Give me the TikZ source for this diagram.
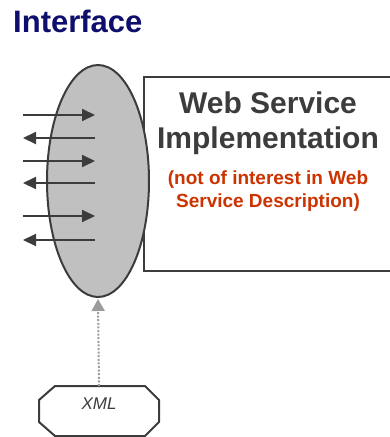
\documentclass[tikz,border=0pt]{standalone}
\usepackage{fontspec}
\setmainfont{Liberation Sans}
\usetikzlibrary{arrows.meta,shapes.geometric,calc}

\definecolor{navy}{HTML}{0E0E6C}
\definecolor{ink}{HTML}{3C3C3C}
\definecolor{shade}{HTML}{C0C0C0}
\definecolor{note}{HTML}{CC3300}
\definecolor{dots}{HTML}{9C9C9C}

\tikzset{
  outline/.style={draw=ink, line width=2pt},
  msg/.style={draw=ink, line width=2pt, -{Triangle[length=13pt,width=12pt]}},
  headline/.style={anchor=base, text=ink, font=\bfseries\fontsize{30}{35}\selectfont, inner sep=0pt},
  noteline/.style={anchor=base, text=note, font=\bfseries\fontsize{19}{23}\selectfont, inner sep=0pt},
}

\begin{document}
\begin{tikzpicture}[x=1pt, y=-1pt]
  \useasboundingbox (0,0) rectangle (389,437);

  % title
  \node[anchor=base west, inner sep=0pt, text=navy, font=\bfseries\fontsize{31}{36}\selectfont] (title) at (13,32) {Interface};

  % implementation box (runs off the right edge)
  \node[outline, rectangle, minimum width=249pt, minimum height=194pt, anchor=north west, inner sep=0pt] (impl) at (143,76) {};
  \node[headline] (impl1) at (268,113) {Web Service};
  \node[headline] (impl2) at (268,148) {Implementation};
  \node[noteline] (note1) at (268,184) {(not of interest in Web};
  \node[noteline] (note2) at (268,207) {Service Description)};

  % interface ellipse
  \node[outline, fill=shade, ellipse, minimum width=102pt, minimum height=232pt, inner sep=0pt] (iface) at (98,181) {};

  % message arrows crossing the interface
  \foreach \y/\dir [count=\i] in {115/r,138/l,161/r,183/l,216/r,240/l}{
    \coordinate (out\i) at (23,\y);
    \coordinate (in\i) at (95,\y);
    \if r\dir
      \draw[msg] (out\i) -- (in\i);
    \else
      \draw[msg] (in\i) -- (out\i);
    \fi
  }

  % XML description box
  \coordinate (xml) at (99,411);
  \draw[draw=ink, line width=2pt]
    ($(xml)+(-44,-25)$) -- ($(xml)+(46,-25)$) -- ($(xml)+(60,-11)$) -- ($(xml)+(60,11)$)
    -- ($(xml)+(46,25)$) -- ($(xml)+(-44,25)$) -- ($(xml)+(-60,11)$) -- ($(xml)+(-60,-11)$) -- cycle;
  \node[inner sep=0pt, text=ink, font=\itshape\fontsize{17}{20}\selectfont] (xmltext) at (99,404) {XML};
  \coordinate (xmltop) at (99,386);

  % dotted link from the XML to the interface
  \draw[draw=dots, line width=2pt, dash pattern=on 2pt off 1.6pt,
        -{Triangle[length=12pt,width=13pt,fill=dots,sep=0pt]}]
    (xmltop) -- ([yshift=-1pt]iface.south);
\end{tikzpicture}
\end{document}
